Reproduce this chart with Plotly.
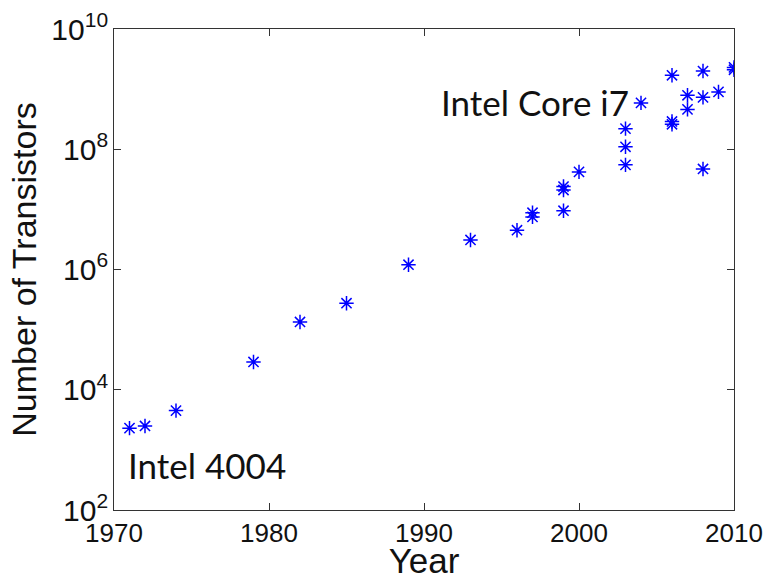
import plotly.graph_objects as go

years = [1971, 1972, 1974, 1979, 1982, 1985, 1989, 1993, 1996, 1997, 1997,
         1999, 1999, 1999, 2000, 2003, 2003, 2003, 2004, 2006, 2006, 2006,
         2007, 2007, 2008, 2008, 2008, 2009, 2010, 2010]
transistors = [2300, 2500, 4500, 29000, 134000, 275000, 1.2e6, 3.1e6, 4.5e6,
               7.5e6, 8.8e6, 9.5e6, 2.1e7, 2.4e7, 4.2e7, 5.5e7, 1.1e8, 2.2e8,
               5.9e8, 1.7e9, 2.6e8, 2.9e8, 4.6e8, 7.9e8, 2.0e9, 7.3e8, 4.7e7,
               9.0e8, 2.3e9, 2.1e9]

labels = ["Intel 4004", "Intel Core i7"]
label_x = [1970.75, 2003.35]
label_y = [2.75, 8.78]  # log10 positions
label_anchor = ["left", "right"]

fig = go.Figure()
fig.add_trace(go.Scatter(
    x=years, y=transistors, mode="markers",
    marker=dict(symbol="asterisk-open", size=12, color="#0000FF",
                line=dict(color="#0000FF", width=1.5)),
    showlegend=False, hoverinfo="x+y"))

for t, xx, yy, a in zip(labels, label_x, label_y, label_anchor):
    fig.add_annotation(x=xx, y=yy, text=t, showarrow=False, xanchor=a,
                       yanchor="middle",
                       font=dict(family="Lato", size=35, color="#111111"))

axis_common = dict(showline=True, linecolor="#333333", linewidth=1.2,
                   mirror="ticks", ticks="inside", ticklen=7,
                   tickcolor="#333333", tickwidth=1.2, showgrid=False,
                   zeroline=False)

fig.update_xaxes(range=[1970, 2010], tick0=1970, dtick=10,
                 tickfont=dict(family="Liberation Sans", size=26, color="#111111"),
                 title=dict(text="Year", standoff=0,
                            font=dict(family="Liberation Sans", size=35, color="#111111")),
                 **axis_common)
fig.update_yaxes(type="log", range=[2, 10], tick0=0, dtick=2,
                 exponentformat="power",
                 tickfont=dict(family="Liberation Sans", size=24, color="#111111"),
                 title=dict(text="Number of Transistors", standoff=4,
                            font=dict(family="Liberation Sans", size=34, color="#111111")),
                 **axis_common)

fig.update_layout(width=768, height=580,
                  margin=dict(l=114, r=34, t=29, b=70, autoexpand=False),
                  plot_bgcolor="white", paper_bgcolor="white")

fig.write_html("out.html", config={"displayModeBar": False},
               post_script="document.body.style.margin='0';document.body.style.padding='0';")
